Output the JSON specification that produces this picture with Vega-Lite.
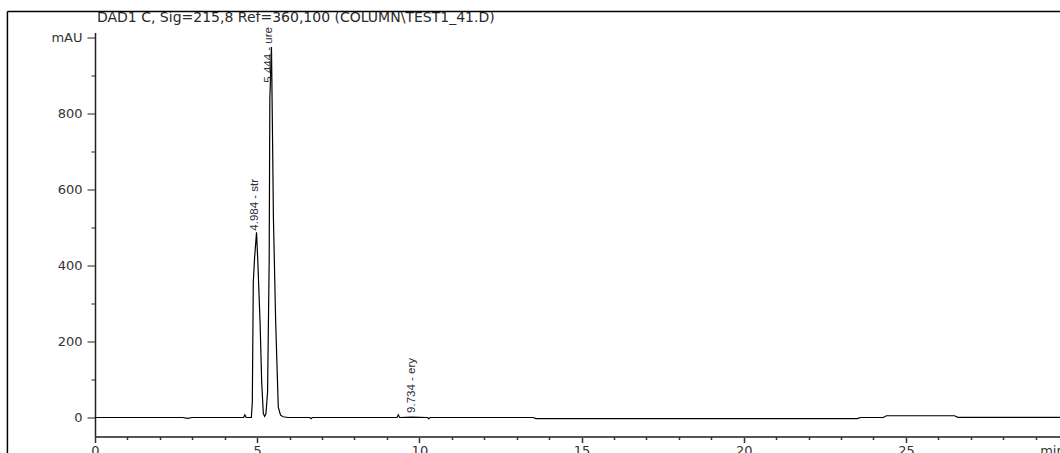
{
  "$schema": "https://vega.github.io/schema/vega-lite/v6.json",
  "autosize": {"type": "none"},
  "padding": {"left": 95, "top": 32.5, "right": 0, "bottom": 16.5},
  "width": 965,
  "height": 404,
  "background": "white",
  "config": {"view": {"stroke": null}},
  "resolve": {"axis": {"x": "independent"}},
  "layer": [
    {
      "data": {"values": [
        {"t": 0, "v": 0}, {"t": 2.7, "v": 0}, {"t": 2.85, "v": -2.5}, {"t": 3.0, "v": 0},
        {"t": 4.58, "v": 0}, {"t": 4.62, "v": 7}, {"t": 4.66, "v": 0},
        {"t": 4.82, "v": 0}, {"t": 4.85, "v": 40}, {"t": 4.88, "v": 356}, {"t": 4.92, "v": 420},
        {"t": 4.98, "v": 487}, {"t": 5.02, "v": 409}, {"t": 5.09, "v": 247}, {"t": 5.14, "v": 90},
        {"t": 5.19, "v": 10}, {"t": 5.23, "v": 3}, {"t": 5.27, "v": 10}, {"t": 5.32, "v": 67},
        {"t": 5.37, "v": 413}, {"t": 5.39, "v": 837}, {"t": 5.44, "v": 974}, {"t": 5.47, "v": 760},
        {"t": 5.5, "v": 526}, {"t": 5.57, "v": 251}, {"t": 5.65, "v": 27}, {"t": 5.72, "v": 6},
        {"t": 5.8, "v": 2}, {"t": 5.95, "v": 0}, {"t": 6.62, "v": 0}, {"t": 6.66, "v": -3},
        {"t": 6.7, "v": 0}, {"t": 9.31, "v": 0}, {"t": 9.35, "v": 7}, {"t": 9.39, "v": 0},
        {"t": 9.77, "v": 1}, {"t": 10.25, "v": 0}, {"t": 10.29, "v": -3}, {"t": 10.33, "v": 0},
        {"t": 13.5, "v": 0}, {"t": 13.6, "v": -3}, {"t": 23.5, "v": -3}, {"t": 23.6, "v": 0},
        {"t": 24.3, "v": 0}, {"t": 24.4, "v": 4.5}, {"t": 26.5, "v": 4.5}, {"t": 26.6, "v": 0.5},
        {"t": 29.75, "v": 0.5}
      ]},
      "mark": {"type": "line", "color": "#000000", "strokeWidth": 1.2, "interpolate": "linear"},
      "encoding": {
        "x": {
          "field": "t", "type": "quantitative",
          "scale": {"domain": [0, 29.75], "nice": false, "zero": false},
          "axis": {
            "orient": "bottom",
            "title": null,
            "grid": false,
            "values": [0, 5, 10, 15, 20, 25, 29.5],
            "domainColor": "#555555",
            "domainWidth": 2,
            "tickColor": "#333333",
            "tickWidth": 1.5,
            "tickSize": 6,
            "tickOpacity": {"condition": {"test": "datum.value > 29.2", "value": 0}, "value": 1},
            "labelExpr": "datum.value > 29.2 ? 'min' : datum.label",
            "labelFont": "DejaVu Sans",
            "labelFontSize": 13,
            "labelColor": "#333333",
            "labelPadding": 2,
            "labelOverlap": false,
            "labelFlush": false,
            "labelBound": false
          }
        },
        "y": {
          "field": "v", "type": "quantitative",
          "scale": {"domain": [-50, 1012], "nice": false, "zero": false},
          "axis": {
            "title": null,
            "grid": false,
            "values": [0,50,100,150,200,250,300,350,400,450,500,550,600,650,700,750,800,850,900,950,1000],
            "domainColor": "#222222",
            "domainWidth": 1.5,
            "tickColor": "#222222",
            "tickWidth": 1,
            "tickSize": {"condition": {"test": "datum.value % 200 === 0", "value": 8}, "value": 4},
            "labelExpr": "datum.value === 1000 ? 'mAU' : (datum.value % 200 === 0 ? datum.label : '')",
            "labelFont": "DejaVu Sans",
            "labelFontSize": 13,
            "labelColor": "#333333",
            "labelPadding": 5,
            "labelOverlap": false,
            "labelBound": false
          }
        }
      }
    },
    {
      "data": {"values": [
        {"label": "4.984 - str", "t": 4.93, "v": 491},
        {"label": "5.444 - ure", "t": 5.35, "v": 880},
        {"label": "9.734 - ery", "t": 9.77, "v": 12}
      ]},
      "mark": {"type": "text", "angle": 270, "align": "left", "baseline": "middle", "font": "Liberation Sans", "fontSize": 11.5, "color": "#2b2b3a"},
      "encoding": {
        "x": {
          "field": "t", "type": "quantitative",
          "axis": {
            "orient": "bottom",
            "title": null,
            "grid": false,
            "values": [1,2,3,4,6,7,8,9,11,12,13,14,16,17,18,19,21,22,23,24,26,27,28,29],
            "domain": false,
            "labels": false,
            "tickColor": "#333333",
            "tickWidth": 1.5,
            "tickSize": 3
          }
        },
        "y": {"field": "v", "type": "quantitative"},
        "text": {"field": "label"}
      }
    },
    {
      "data": {"values": [{}]},
      "mark": {"type": "text", "align": "left", "baseline": "alphabetic", "font": "DejaVu Sans", "fontSize": 14, "color": "#2a2a2a", "text": "DAD1 C, Sig=215,8 Ref=360,100 (COLUMN\\TEST1_41.D)"},
      "encoding": {
        "x": {"datum": 0.06, "type": "quantitative", "axis": null},
        "y": {"datum": 1040, "type": "quantitative"}
      }
    },
    {
      "data": {"values": [{}]},
      "mark": {"type": "rule", "color": "#000000", "strokeWidth": 1.5, "clip": false},
      "encoding": {
        "x": {"datum": -2.7, "type": "quantitative", "axis": null},
        "y": {"datum": -120, "type": "quantitative"},
        "y2": {"datum": 1067}
      }
    },
    {
      "data": {"values": [{}]},
      "mark": {"type": "rule", "color": "#000000", "strokeWidth": 1.5, "clip": false},
      "encoding": {
        "x": {"datum": -2.7, "type": "quantitative", "axis": null},
        "x2": {"datum": 31},
        "y": {"datum": 1067, "type": "quantitative"}
      }
    }
  ]
}
